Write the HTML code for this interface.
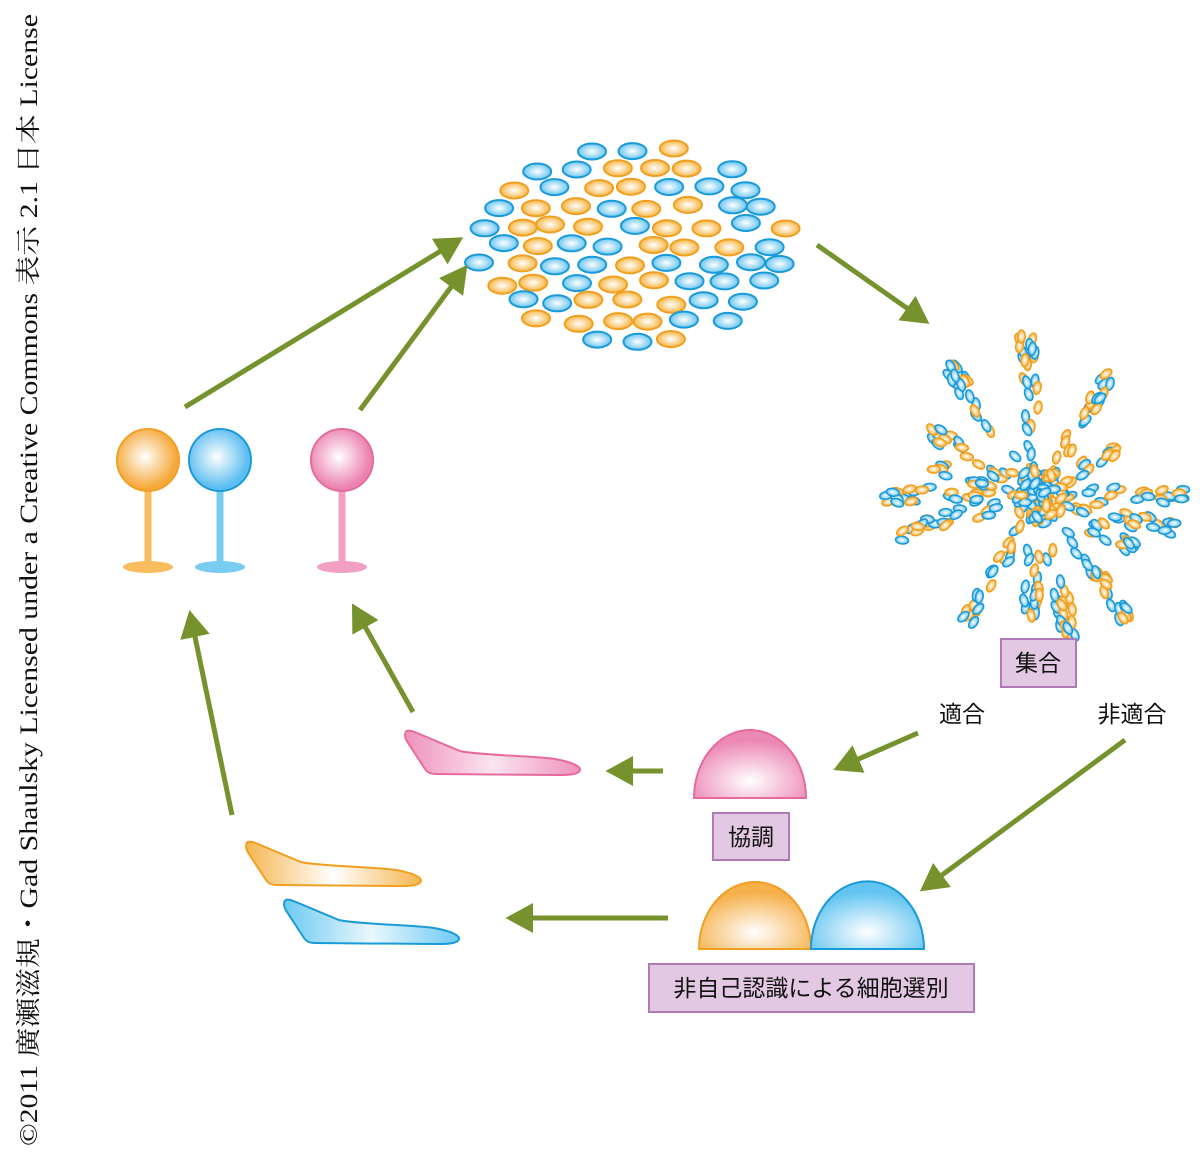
<!DOCTYPE html>
<html><head><meta charset="utf-8"><style>
body{margin:0;background:#fff}
svg{display:block}
.lbl{font-family:"Liberation Sans","Noto Sans CJK JP",sans-serif;font-size:23px;fill:#111}
</style></head><body>
<svg id="s" width="1200" height="1158" viewBox="0 0 1200 1158" xmlns="http://www.w3.org/2000/svg">
<defs>
<radialGradient id="go"><stop offset="0" stop-color="#fff"/><stop offset="1" stop-color="#f7b84a"/></radialGradient>
<radialGradient id="gb"><stop offset="0" stop-color="#fff"/><stop offset="1" stop-color="#6cc6f0"/></radialGradient>
<radialGradient id="gos" cx="0.45" cy="0.45"><stop offset="0" stop-color="#fff"/><stop offset="1" stop-color="#f5a93a"/></radialGradient>
<radialGradient id="gbs" cx="0.45" cy="0.45"><stop offset="0" stop-color="#fff"/><stop offset="1" stop-color="#5bbdf0"/></radialGradient>
<radialGradient id="gps" cx="0.45" cy="0.45"><stop offset="0" stop-color="#fff"/><stop offset="1" stop-color="#ec82b0"/></radialGradient>
<radialGradient id="ro" cx="0.5" cy="0.75" r="0.6"><stop offset="0" stop-color="#fff"/><stop offset="1" stop-color="#f5b04a"/></radialGradient>
<radialGradient id="rb" cx="0.5" cy="0.75" r="0.6"><stop offset="0" stop-color="#fff"/><stop offset="1" stop-color="#62c4f0"/></radialGradient>
<radialGradient id="rp" cx="0.5" cy="0.75" r="0.6"><stop offset="0" stop-color="#fff"/><stop offset="1" stop-color="#ec88b4"/></radialGradient>
<linearGradient id="lo"><stop offset="0" stop-color="#f5b650"/><stop offset="0.5" stop-color="#fff"/><stop offset="1" stop-color="#f5b650"/></linearGradient>
<linearGradient id="lb"><stop offset="0" stop-color="#6ccaf2"/><stop offset="0.5" stop-color="#eaf7fd"/><stop offset="1" stop-color="#6ccaf2"/></linearGradient>
<linearGradient id="lp"><stop offset="0" stop-color="#ee92bc"/><stop offset="0.5" stop-color="#fbe4ef"/><stop offset="1" stop-color="#ee92bc"/></linearGradient>
<marker id="ah" markerWidth="6" markerHeight="6" refX="1" refY="3" orient="auto" markerUnits="strokeWidth"><path d="M0,0 L5.5,3 L0,6 Z" fill="#76922d"/></marker>
<path id="cell" d="M0,4 C0,-2 5,-1 12,2 L55,20 C70,24 130,25 150,28 C172,32 180,38 172,42 C168,44 160,44 150,44 L30,43 C25,43 22,41 20,38 L3,12 C1,9 0,7 0,4 Z"/>
</defs>
<g id="dots"></g>
<g stroke-width="2">
<rect x="144.5" y="490" width="7" height="75" fill="#f7bd5e"/>
<ellipse cx="148" cy="567" rx="25" ry="6" fill="#f7bd5e"/>
<circle cx="148" cy="460" r="31" fill="url(#gos)" stroke="#f0a028"/>
<rect x="216.5" y="490" width="7" height="75" fill="#78ccf2"/>
<ellipse cx="220" cy="567" rx="25" ry="6" fill="#78ccf2"/>
<circle cx="220" cy="460" r="31" fill="url(#gbs)" stroke="#1a9ad8"/>
<rect x="338.5" y="490" width="7" height="75" fill="#f2a0c2"/>
<ellipse cx="342" cy="567" rx="25" ry="6" fill="#f2a0c2"/>
<circle cx="342" cy="460" r="31" fill="url(#gps)" stroke="#e66a9e"/>
</g>
<use href="#cell" x="405" y="731" fill="url(#lp)" stroke="#e66a9e" stroke-width="2"/>
<use href="#cell" x="246" y="842" fill="url(#lo)" stroke="#f0a020" stroke-width="2"/>
<use href="#cell" x="284" y="900" fill="url(#lb)" stroke="#1a9ad8" stroke-width="2"/>
<path d="M694,798 A56,68 0 0 1 806,798 Z" fill="url(#rp)" stroke="#e66a9e" stroke-width="2"/>
<path d="M699,949 A56,67 0 0 1 811,949 Z" fill="url(#ro)" stroke="#f0a020" stroke-width="2"/>
<path d="M811,949 A56,67 0 0 1 924,949 Z" fill="url(#rb)" stroke="#1a9ad8" stroke-width="2"/>
<g stroke="#76922d" stroke-width="5" marker-end="url(#ah)" fill="none">
<line x1="185" y1="407" x2="444" y2="249"/>
<line x1="360" y1="410" x2="454" y2="283"/>
<line x1="817" y1="245" x2="911" y2="311"/>
<line x1="918" y1="733" x2="854" y2="761"/>
<line x1="1125" y1="740" x2="938" y2="878"/>
<line x1="663" y1="771" x2="628" y2="771"/>
<line x1="668" y1="918" x2="528" y2="918"/>
<line x1="232" y1="815" x2="194" y2="632"/>
<line x1="413" y1="712" x2="363" y2="623"/>
</g>
<g fill="#e3c8e3" stroke="#b07ab8" stroke-width="2">
<rect x="1001" y="639" width="75" height="48"/>
<rect x="713" y="813" width="76" height="47"/>
<rect x="649" y="964" width="325" height="48"/>
</g>
<text class="lbl" x="1038" y="671" text-anchor="middle">集合</text>
<text class="lbl" x="751" y="845" text-anchor="middle">協調</text>
<text class="lbl" x="811" y="996" text-anchor="middle">非自己認識による細胞選別</text>
<text class="lbl" x="962" y="722" text-anchor="middle">適合</text>
<text class="lbl" x="1132" y="722" text-anchor="middle">非適合</text>
<text transform="translate(37,1146) rotate(-90)" font-family="'Liberation Serif','Noto Serif CJK SC',serif" font-size="25" fill="#111" textLength="1132" lengthAdjust="spacingAndGlyphs">©2011 廣瀬滋規・Gad Shaulsky Licensed under a Creative Commons 表示 2.1 日本 License</text>
</svg>
<script>
(function(){
var g=document.getElementById('dots'),ns='http://www.w3.org/2000/svg';
var seed=7;function r(){seed=(seed*16807)%2147483647;return seed/2147483647;}
function el(cx,cy,rx,ry,ang,o,sw){var e=document.createElementNS(ns,'ellipse');
e.setAttribute('cx',cx.toFixed(1));e.setAttribute('cy',cy.toFixed(1));e.setAttribute('rx',rx);e.setAttribute('ry',ry);
e.setAttribute('fill',o?'url(#go)':'url(#gb)');e.setAttribute('stroke',o?'#f0a020':'#1a9ad8');e.setAttribute('stroke-width',sw);
if(ang)e.setAttribute('transform','rotate('+ang.toFixed(1)+' '+cx.toFixed(1)+' '+cy.toFixed(1)+')');g.appendChild(e);}
var row=0;
for(var y=150;y<=340;y+=19,row++){for(var x=480;x<=785;x+=38){
var cx=x+(r()-0.5)*12+(row%2)*19,cy=y+(r()-0.5)*6;
var dx=(cx-630)/160,dy=(cy-245)/102;if(dx*dx+dy*dy>1.0)continue;
el(cx,cy,14,8,0,r()<0.5,2);}}
var C=[1040,495];
var rays=[[-125,145],[-95,145],[-60,125],[-150,120],[180,140],[165,135],[0,130],[15,125],[30,105],[55,135],[78,130],[95,110],[120,130],[-30,80],[-165,95]];
for(var i=0;i<rays.length;i++){var a=rays[i][0]*Math.PI/180,L=rays[i][1];
var n=Math.round(L/6);for(var k=0;k<n;k++){var d=15+Math.sqrt(r())*L;var w=(r()-0.5)*16;
var cx=C[0]+Math.cos(a)*d-Math.sin(a)*w,cy=C[1]+Math.sin(a)*d+Math.cos(a)*w;
el(cx,cy,6.5,3.8,rays[i][0]+(r()-0.5)*50,r()<0.5,1.6);}}
for(var k=0;k<100;k++){var a=r()*6.283,d=r()*30;el(C[0]+Math.cos(a)*d*0.9,C[1]+Math.sin(a)*d,6.5,3.8,r()*180,r()<0.5,1.6);}
})();
</script>
</body></html>
